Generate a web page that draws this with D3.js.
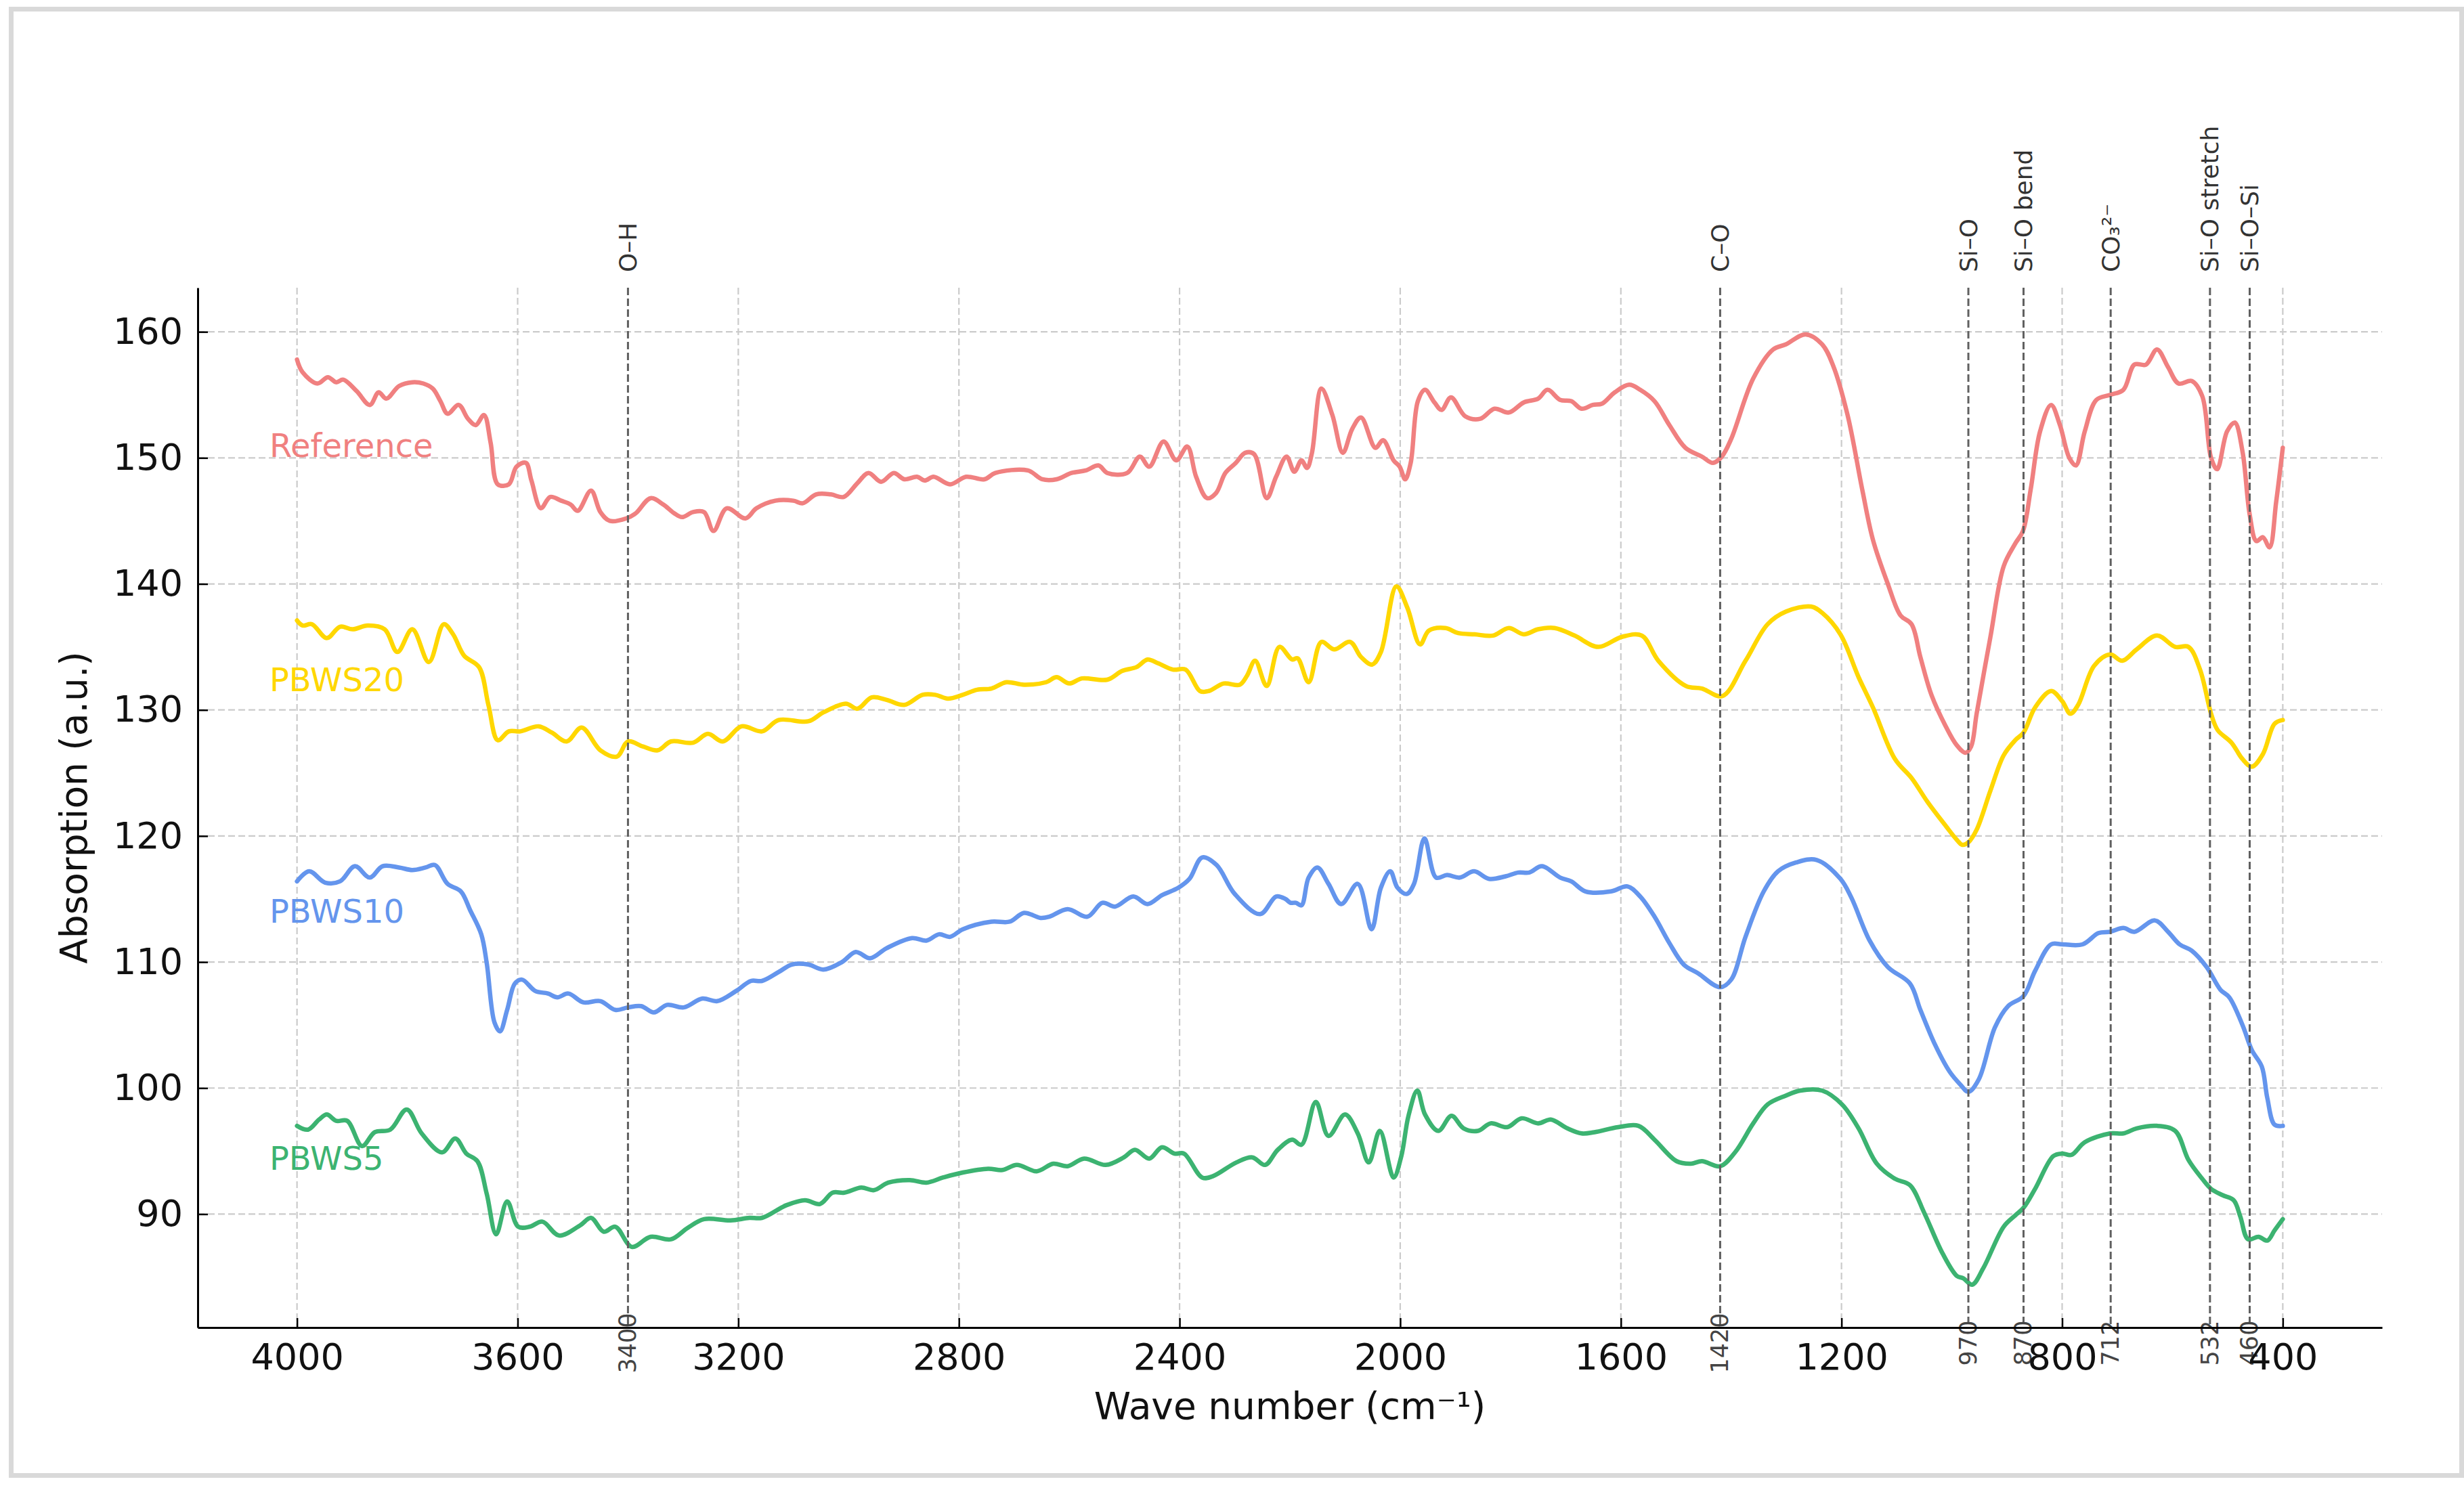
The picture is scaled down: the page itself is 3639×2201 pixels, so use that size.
<!DOCTYPE html>
<html>
<head>
<meta charset="utf-8">
<style>
html, body { margin: 0; padding: 0; background: #fff; }
text { font-family: "DejaVu Sans", sans-serif; }
</style>
</head>
<body>
<svg id="chart" width="3639" height="2201"></svg>
<script src="https://cdn.jsdelivr.net/npm/d3@7"></script>
<script>

// ---- data: [wave number, absorption] ----
var reference = [
 [4000,157.8],[3990,156.8],[3963,155.9],[3944,156.4],[3929,156.0],[3916,156.2],[3892,155.3],[3868,154.2],
 [3852,155.2],[3838,154.7],[3815,155.7],[3791,156.0],[3771,155.9],[3754,155.5],[3740,154.5],[3727,153.5],
 [3707,154.2],[3690,153.1],[3676,152.6],[3661,153.4],[3649,151.2],[3636,147.9],[3616,147.9],[3602,149.3],
 [3585,149.6],[3575,148.2],[3558,146.0],[3541,146.9],[3521,146.6],[3504,146.3],[3491,145.8],[3467,147.4],
 [3450,145.7],[3433,145.0],[3403,145.2],[3386,145.6],[3359,146.8],[3336,146.3],[3316,145.6],[3302,145.3],
 [3282,145.7],[3262,145.7],[3245,144.2],[3221,146.0],[3187,145.2],[3167,146.0],[3133,146.6],[3100,146.6],
 [3083,146.4],[3059,147.1],[3032,147.1],[3009,146.9],[2984,148.0],[2964,148.8],[2941,148.1],[2918,148.8],
 [2899,148.3],[2876,148.5],[2862,148.2],[2846,148.5],[2816,147.9],[2787,148.5],[2754,148.3],[2734,148.8],
 [2675,149.0],[2649,148.3],[2623,148.3],[2596,148.8],[2570,149.0],[2547,149.4],[2531,148.8],[2495,148.8],
 [2472,150.1],[2455,149.3],[2429,151.3],[2406,149.8],[2386,150.9],[2370,148.5],[2350,146.8],[2334,147.2],
 [2317,148.8],[2298,149.6],[2281,150.4],[2265,150.3],[2242,146.8],[2225,148.5],[2206,150.1],[2192,148.9],
 [2179,149.8],[2169,149.2],[2160,150.4],[2143,155.5],[2123,153.4],[2104,150.4],[2087,152.3],[2071,153.2],
 [2045,150.8],[2031,151.4],[2012,149.8],[2001,149.3],[1991,148.3],[1981,149.6],[1968,154.5],[1955,155.4],
 [1938,154.4],[1925,153.8],[1908,154.8],[1882,153.3],[1855,153.1],[1829,153.9],[1803,153.6],[1776,154.4],
 [1750,154.7],[1733,155.4],[1710,154.6],[1690,154.5],[1671,153.9],[1651,154.2],[1634,154.3],[1611,155.2],
 [1585,155.8],[1565,155.4],[1539,154.5],[1512,152.6],[1483,150.8],[1453,150.1],[1433,149.6],[1417,150.1],
 [1400,151.5],[1360,156.3],[1324,158.6],[1301,159.0],[1265,159.8],[1235,159.0],[1215,157.3],[1189,153.4],
 [1162,147.4],[1143,143.5],[1116,140.0],[1093,137.5],[1073,136.8],[1057,134.2],[1037,131.2],[1011,128.7],
 [991,127.2],[975,126.6],[965,127.1],[955,129.7],[930,135.8],[906,141.4],[885,143.2],[871,144.2],
 [857,147.5],[840,152.1],[820,154.2],[804,152.6],[787,150.0],[775,149.4],[759,152.1],[738,154.6],
 [713,155.0],[689,155.4],[669,157.4],[648,157.4],[628,158.6],[608,157.2],[589,155.9],[565,156.1],
 [546,154.9],[530,150.0],[519,149.1],[501,152.1],[487,152.8],[473,150.5],[460,145.5],[448,143.4],
 [436,143.7],[424,142.9],[412,146.5],[400,150.8]
];

var pbws20 = [
 [4000,137.1],[3990,136.7],[3973,136.8],[3946,135.7],[3922,136.6],[3899,136.4],[3872,136.7],[3841,136.4],
 [3818,134.6],[3791,136.4],[3761,133.8],[3734,136.8],[3717,136.0],[3697,134.3],[3670,133.4],[3653,130.4],
 [3636,127.6],[3616,128.3],[3595,128.3],[3562,128.7],[3538,128.2],[3511,127.5],[3484,128.6],[3450,126.8],
 [3420,126.3],[3400,127.5],[3373,127.1],[3346,126.8],[3322,127.5],[3282,127.4],[3255,128.1],[3228,127.5],
 [3194,128.7],[3157,128.3],[3127,129.2],[3073,129.1],[3046,129.8],[3005,130.5],[2984,130.1],[2958,131.0],
 [2931,130.8],[2899,130.4],[2866,131.2],[2843,131.2],[2820,130.9],[2793,131.2],[2767,131.6],[2741,131.7],
 [2714,132.2],[2682,132.0],[2642,132.2],[2623,132.6],[2600,132.1],[2577,132.5],[2531,132.4],[2504,133.1],
 [2478,133.4],[2458,134.0],[2439,133.7],[2412,133.2],[2389,133.2],[2363,131.5],[2347,131.5],[2320,132.1],
 [2291,132.0],[2278,132.7],[2263,133.9],[2242,131.9],[2219,135.0],[2196,134.0],[2186,134.1],[2166,132.2],
 [2143,135.4],[2120,134.8],[2091,135.4],[2071,134.2],[2051,133.6],[2035,134.6],[2007,139.8],[1987,138.1],
 [1964,135.2],[1948,136.3],[1918,136.5],[1895,136.1],[1865,136.0],[1832,135.9],[1803,136.5],[1776,136.0],
 [1750,136.4],[1720,136.5],[1684,135.9],[1641,135.0],[1598,135.8],[1562,135.9],[1532,133.9],[1482,131.9],
 [1453,131.7],[1416,131.1],[1374,133.9],[1334,136.8],[1301,137.8],[1255,138.2],[1235,137.7],[1202,136.0],
 [1169,132.6],[1143,130.2],[1103,126.1],[1073,124.6],[1044,122.7],[1011,120.8],[991,119.7],[981,119.3],
 [970,119.5],[955,120.5],[930,123.6],[906,126.4],[885,127.6],[870,128.2],[849,130.2],[820,131.5],
 [800,130.7],[785,129.7],[771,130.4],[742,133.5],[713,134.4],[691,133.9],[665,134.8],[628,135.9],
 [595,135.0],[571,135.0],[550,133.2],[530,129.7],[518,128.4],[493,127.4],[473,126.1],[456,125.5],
 [436,126.5],[415,128.9],[400,129.2]
];

var pbws10 = [
 [4000,116.4],[3978,117.2],[3949,116.3],[3922,116.4],[3895,117.6],[3868,116.7],[3845,117.6],[3815,117.5],
 [3791,117.3],[3767,117.5],[3750,117.7],[3727,116.2],[3703,115.6],[3686,114.1],[3666,112.2],[3656,109.9],
 [3642,105.2],[3632,104.5],[3619,106.2],[3605,108.3],[3592,108.6],[3568,107.7],[3545,107.5],[3528,107.2],
 [3508,107.5],[3481,106.8],[3450,106.9],[3423,106.2],[3400,106.4],[3376,106.5],[3353,106.0],[3329,106.6],
 [3299,106.4],[3265,107.1],[3238,106.9],[3204,107.7],[3177,108.5],[3157,108.5],[3127,109.2],[3103,109.8],
 [3073,109.8],[3046,109.4],[3012,110.0],[2987,110.8],[2961,110.3],[2931,111.1],[2885,111.9],[2859,111.7],
 [2836,112.2],[2816,112.0],[2793,112.6],[2741,113.2],[2708,113.2],[2682,113.9],[2652,113.5],[2636,113.6],
 [2603,114.2],[2567,113.6],[2540,114.7],[2517,114.4],[2484,115.2],[2458,114.6],[2432,115.3],[2402,115.9],
 [2382,116.6],[2359,118.3],[2333,117.7],[2300,115.4],[2254,113.8],[2225,115.2],[2208,115.0],[2199,114.7],
 [2189,114.7],[2179,114.5],[2166,116.7],[2150,117.5],[2130,116.2],[2107,114.6],[2077,116.2],[2052,112.6],
 [2035,115.9],[2018,117.2],[2005,115.9],[1988,115.4],[1975,116.2],[1956,119.8],[1935,116.7],[1915,116.9],
 [1892,116.7],[1866,117.2],[1839,116.6],[1809,116.8],[1786,117.1],[1766,117.1],[1743,117.6],[1710,116.7],
 [1690,116.4],[1664,115.6],[1618,115.6],[1588,116.0],[1565,115.2],[1539,113.6],[1512,111.5],[1486,109.8],
 [1460,109.1],[1420,108.0],[1400,108.6],[1374,112.0],[1341,115.6],[1315,117.2],[1282,117.9],[1245,118.1],
 [1202,116.6],[1182,115.1],[1149,111.7],[1116,109.6],[1076,108.3],[1057,106.2],[1030,103.4],[1004,101.3],
 [985,100.3],[970,99.7],[951,100.7],[922,104.8],[898,106.5],[870,107.3],[849,109.3],[820,111.4],
 [800,111.4],[763,111.4],[734,112.3],[713,112.4],[689,112.7],[669,112.4],[632,113.3],[608,112.4],
 [587,111.4],[565,110.9],[538,109.6],[513,107.8],[497,107.2],[473,105.0],[456,103.0],[438,101.7],
 [428,99.2],[415,97.1],[400,97.0]
];

var pbws5 = [
 [4000,97.0],[3980,96.7],[3960,97.5],[3946,97.9],[3929,97.4],[3909,97.4],[3882,95.4],[3859,96.5],
 [3831,96.7],[3801,98.3],[3774,96.4],[3737,94.9],[3713,96.0],[3693,94.8],[3673,94.2],[3656,91.6],
 [3639,88.4],[3619,91.0],[3599,89.0],[3578,89.0],[3555,89.4],[3525,88.3],[3487,89.1],[3467,89.7],
 [3444,88.6],[3423,89.0],[3393,87.4],[3359,88.2],[3322,88.0],[3292,88.9],[3262,89.6],[3214,89.5],
 [3180,89.7],[3157,89.7],[3113,90.7],[3079,91.1],[3052,90.8],[3029,91.7],[3008,91.7],[2977,92.1],
 [2954,91.9],[2928,92.5],[2889,92.7],[2859,92.5],[2829,92.9],[2793,93.3],[2747,93.6],[2721,93.5],
 [2695,93.9],[2659,93.4],[2629,94.0],[2603,93.8],[2573,94.4],[2534,93.9],[2501,94.5],[2481,95.1],
 [2455,94.4],[2432,95.3],[2409,94.8],[2392,94.8],[2359,92.9],[2340,93.0],[2297,94.1],[2268,94.5],
 [2245,93.9],[2222,95.1],[2196,95.9],[2179,95.5],[2153,98.9],[2130,96.2],[2100,97.9],[2077,96.4],
 [2057,94.1],[2037,96.6],[2012,92.9],[1998,94.6],[1985,97.8],[1969,99.8],[1955,97.9],[1931,96.6],
 [1907,97.8],[1885,96.8],[1859,96.6],[1836,97.2],[1806,96.9],[1780,97.6],[1750,97.2],[1727,97.5],
 [1697,96.8],[1671,96.4],[1648,96.5],[1605,96.9],[1568,97.0],[1539,95.9],[1499,94.2],[1473,94.0],
 [1453,94.2],[1420,93.8],[1393,94.9],[1360,97.2],[1334,98.7],[1301,99.4],[1275,99.8],[1235,99.8],
 [1199,98.7],[1169,96.8],[1136,94.0],[1103,92.8],[1076,92.3],[1050,90.1],[1017,86.9],[991,85.1],
 [979,84.9],[963,84.4],[943,85.7],[906,89.0],[885,89.9],[870,90.5],[849,92.0],[816,94.6],
 [800,94.8],[783,94.7],[759,95.7],[713,96.4],[689,96.4],[665,96.8],[628,97.0],[595,96.6],
 [571,94.3],[546,92.8],[530,92.0],[509,91.5],[489,91.1],[477,89.8],[463,88.0],[444,88.2],
 [428,87.9],[415,88.7],[400,89.6]
];

var seriesNames = ["Reference", "PBWS20", "PBWS10", "PBWS5"];
var seriesColors = ["#f08080", "#ffd700", "#6495ed", "#3cb371"];
var labelY = [150.05, 131.5, 113.1, 93.5];

var peakWn = [3400, 1420, 970, 870, 712, 532, 460];
var peakNames = ["O–H", "C–O", "Si–O", "Si–O bend", "CO₃²⁻", "Si–O stretch", "Si–O–Si"];

var xTicks = [4000, 3600, 3200, 2800, 2400, 2000, 1600, 1200, 800, 400];
var yTicks = [90, 100, 110, 120, 130, 140, 150, 160];

// ---- layout ----
var plotL = 292, plotR = 3518, plotT = 425, plotB = 1961;

var svg = d3.select("#chart");

svg.append("rect")
    .attr("x", 16.5).attr("y", 13.5)
    .attr("width", 3619).attr("height", 2166)
    .attr("fill", "#fff")
    .attr("stroke", "#d9d9d9")
    .attr("stroke-width", 7);

var x = d3.scaleLinear().domain([4180, 220]).range([plotL, plotR]);
var y = d3.scaleLinear().domain([81, 163.5]).range([plotB, plotT]);

// grid
var grid = svg.append("g");
grid.selectAll(".gx").data(xTicks).enter().append("line")
    .attr("x1", function(d) { return x(d); }).attr("x2", function(d) { return x(d); })
    .attr("y1", plotT).attr("y2", plotB);
grid.selectAll(".gy").data(yTicks).enter().append("line")
    .attr("x1", plotL).attr("x2", plotR)
    .attr("y1", function(d) { return y(d); }).attr("y2", function(d) { return y(d); });
grid.selectAll("line")
    .attr("stroke", "#cbcbcb")
    .attr("stroke-width", 2.2)
    .attr("stroke-dasharray", "10,5");

// curves
var line = d3.line()
    .x(function(d) { return x(d[0]); })
    .y(function(d) { return y(d[1]); })
    .curve(d3.curveCatmullRom.alpha(0.5));

var allSeries = [reference, pbws20, pbws10, pbws5];

svg.append("g").selectAll("path").data(allSeries).enter().append("path")
    .attr("d", line)
    .attr("fill", "none")
    .attr("stroke", function(d, i) { return seriesColors[i]; })
    .attr("stroke-width", 6.5)
    .attr("stroke-linejoin", "round")
    .attr("stroke-linecap", "round");

svg.append("g").selectAll("text").data(seriesNames).enter().append("text")
    .attr("x", x(4050))
    .attr("y", function(d, i) { return y(labelY[i]); })
    .attr("font-size", 48)
    .attr("fill", function(d, i) { return seriesColors[i]; })
    .text(function(d) { return d; });

// peak markers
var peaks = svg.append("g");
peaks.selectAll("line").data(peakWn).enter().append("line")
    .attr("x1", function(d) { return x(d); }).attr("x2", function(d) { return x(d); })
    .attr("y1", plotT).attr("y2", plotB)
    .attr("stroke", "#606060")
    .attr("stroke-width", 3)
    .attr("stroke-dasharray", "11,5");

peaks.selectAll(".pname").data(peakWn).enter().append("text")
    .attr("transform", function(d) { return "translate(" + x(d) + ",402) rotate(-90)"; })
    .attr("dominant-baseline", "central")
    .attr("font-size", 36)
    .attr("fill", "#333")
    .text(function(d, i) { return peakNames[i]; });

peaks.selectAll(".pnum").data(peakWn).enter().append("text")
    .attr("transform", function(d) { return "translate(" + x(d) + ",1984) rotate(-90)"; })
    .attr("dominant-baseline", "central")
    .attr("text-anchor", "middle")
    .attr("font-size", 35)
    .attr("fill", "#444")
    .text(function(d) { return d; });

// axes
var xAxis = svg.append("g").attr("transform", "translate(0," + plotB + ")")
    .call(d3.axisBottom(x).tickValues(xTicks).tickFormat(d3.format("d"))
        .tickSize(-14).tickPadding(24).tickSizeOuter(0));
var yAxis = svg.append("g").attr("transform", "translate(" + plotL + ",0)")
    .call(d3.axisLeft(y).tickValues(yTicks).tickFormat(d3.format("d"))
        .tickSize(-15).tickPadding(22).tickSizeOuter(0));

[xAxis, yAxis].forEach(function(a) {
  a.select(".domain").attr("stroke", "#000").attr("stroke-width", 3);
  a.selectAll(".tick line").attr("stroke", "#000").attr("stroke-width", 2.5);
  a.selectAll(".tick text")
      .attr("font-family", "DejaVu Sans")
      .attr("font-size", 54)
      .attr("fill", "#111");
});
xAxis.selectAll(".tick text").attr("dy", null).attr("y", 62);

svg.append("text")
    .attr("x", (plotL + plotR) / 2)
    .attr("y", 2096)
    .attr("text-anchor", "middle")
    .attr("font-size", 55)
    .attr("fill", "#111")
    .text("Wave number (cm⁻¹)");

svg.append("text")
    .attr("transform", "translate(109," + (plotT + plotB) / 2 + ") rotate(-90)")
    .attr("text-anchor", "middle")
    .attr("dominant-baseline", "central")
    .attr("font-size", 55)
    .attr("fill", "#111")
    .text("Absorption (a.u.)");

</script>
</body>
</html>
